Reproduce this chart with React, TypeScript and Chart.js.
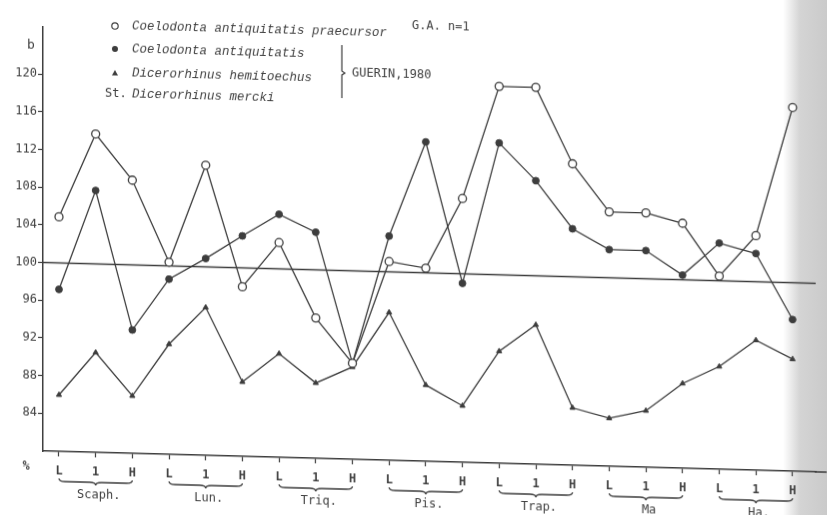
import React, { useEffect, useRef } from "react";
import { Chart, registerables } from "chart.js";

Chart.register(...registerables);

// ---- data ----
const groupNames = ["Scaph.", "Lun.", "Triq.", "Pis.", "Trap.", "Ma", "Ha."];
const tickLabels = [
  "L", "1", "H", "L", "1", "H", "L", "1", "H", "L", "1", "H",
  "L", "1", "H", "L", "1", "H", "L", "1", "H",
];
const praecursorValues = [
  104.9, 113.8, 109.0, 100.4, 110.8, 98.0, 102.8, 94.9, 90.2, 101.1, 100.5,
  108.0, 120.0, 120.0, 112.0, 107.0, 107.0, 106.0, 100.5, 104.9, 118.6,
];
const antiquitatisValues = [
  97.2, 107.8, 93.1, 98.6, 100.9, 103.4, 105.8, 104.0, 90.2, 103.8, 113.9,
  99.0, 114.0, 110.1, 105.1, 103.0, 103.0, 100.5, 104.0, 103.0, 96.1,
];
const hemitoechusValues = [
  86.0, 90.6, 86.1, 91.7, 95.7, 87.9, 91.0, 88.0, 89.8, 95.7, 88.1,
  86.0, 91.9, 94.8, 86.1, 85.1, 86.0, 89.0, 90.9, 93.8, 91.9,
];
const yTickValues = [84, 88, 92, 96, 100, 104, 108, 112, 116, 120];
const referenceValue = 100;
const yMin = 80;
const yMax = 125;

const legendNames = [
  "Coelodonta antiquitatis praecursor",
  "Coelodonta antiquitatis",
  "Dicerorhinus hemitoechus",
  "Dicerorhinus mercki",
];
const legendNote = "G.A. n=1";
const sourceNote = "GUERIN,1980";
const panelLetter = "b";
const unitLabel = "%";

// ---- styles ----
const INK = "#3d3d3d";
const TEXT = "#404040";
const MONO = "'DejaVu Sans Mono', monospace";
const SCRIPT = "italic 12.5px 'Liberation Mono', monospace";
const SKEW = 0.027; // scan shear of the original page
const ORIGIN_X = 43;

function App() {
  const canvasRef = useRef<HTMLCanvasElement | null>(null);

  useEffect(() => {
    const canvas = canvasRef.current;
    if (!canvas) return;

    const toPts = (arr: number[]) => arr.map((v, i) => ({ x: i, y: v }));
    // convert a page position to the canvas position before shear
    const uy = (x: number, y: number) => y - SKEW * (x - ORIGIN_X);

    const decor = {
      id: "decor",
      beforeDatasetsDraw(chart: any) {
        const { ctx, chartArea, scales } = chart;
        const y = scales.y.getPixelForValue(referenceValue);
        ctx.save();
        ctx.strokeStyle = INK;
        ctx.lineWidth = 1.4;
        ctx.beginPath();
        ctx.moveTo(chartArea.left, y);
        ctx.lineTo(chartArea.right, y);
        ctx.stroke();
        ctx.restore();
      },
      afterDraw(chart: any) {
        const { ctx, chartArea, scales, width } = chart;
        const xs = scales.x;
        const b = chartArea.bottom;
        ctx.save();
        ctx.strokeStyle = INK;
        ctx.fillStyle = TEXT;
        // x-axis runs on to the page edge
        ctx.lineWidth = 1.5;
        ctx.beginPath();
        ctx.moveTo(chartArea.right - 1, b);
        ctx.lineTo(width, b);
        ctx.stroke();

        // braces + group names
        ctx.lineWidth = 1.3;
        ctx.font = `12px ${MONO}`;
        ctx.textAlign = "center";
        ctx.textBaseline = "middle";
        groupNames.forEach((name, g) => {
          const xL = xs.getPixelForValue(g * 3);
          const xC = xs.getPixelForValue(g * 3 + 1);
          const xH = xs.getPixelForValue(g * 3 + 2);
          const y0 = b + 30;
          ctx.beginPath();
          ctx.moveTo(xL, y0 - 3);
          ctx.quadraticCurveTo(xL, y0, xL + 6, y0);
          ctx.lineTo(xC - 6, y0);
          ctx.quadraticCurveTo(xC, y0, xC, y0 + 3);
          ctx.quadraticCurveTo(xC, y0, xC + 6, y0);
          ctx.lineTo(xH - 6, y0);
          ctx.quadraticCurveTo(xH, y0, xH, y0 - 3);
          ctx.stroke();
          ctx.fillText(name, xC + 3, b + 43);
        });

        // panel letter and unit
        ctx.font = `13px ${MONO}`;
        ctx.fillText(panelLetter, 31, uy(31, 45));
        ctx.font = `bold 12px ${MONO}`;
        ctx.fillText(unitLabel, 26, uy(26, 466));

        // legend
        const rows = [26, 49, 73, 94];
        const mx = 115;
        const tx = 132;
        ctx.textAlign = "left";
        // open circle
        ctx.lineWidth = 1.2;
        ctx.beginPath();
        ctx.arc(mx, uy(mx, rows[0]), 3.2, 0, Math.PI * 2);
        ctx.fillStyle = "#fff";
        ctx.fill();
        ctx.stroke();
        ctx.fillStyle = INK;
        // filled circle
        ctx.beginPath();
        ctx.arc(mx, uy(mx, rows[1]), 3, 0, Math.PI * 2);
        ctx.fill();
        // triangle
        const ty = uy(mx, rows[2]);
        ctx.beginPath();
        ctx.moveTo(mx, ty - 3);
        ctx.lineTo(mx + 3, ty + 2.5);
        ctx.lineTo(mx - 3, ty + 2.5);
        ctx.closePath();
        ctx.fill();

        ctx.fillStyle = TEXT;
        ctx.font = SCRIPT;
        for (let i = 0; i < 3; i++) {
          ctx.fillText(legendNames[i], tx, uy(tx, rows[i]));
        }
        ctx.font = `12px ${MONO}`;
        ctx.fillText("St.", 105, uy(105, rows[3]));
        ctx.font = SCRIPT;
        ctx.fillText(legendNames[3], tx, uy(tx, rows[3]));
        ctx.font = `12px ${MONO}`;
        ctx.fillText(legendNote, 412, uy(412, rows[0]));
        ctx.fillText(sourceNote, 352, uy(352, rows[2]));

        // bracket
        const bx = 342;
        ctx.lineWidth = 1.2;
        ctx.strokeStyle = INK;
        ctx.beginPath();
        ctx.moveTo(bx, uy(bx, 45));
        ctx.lineTo(bx, uy(bx, rows[2] - 2));
        ctx.lineTo(bx + 3, uy(bx, rows[2]));
        ctx.lineTo(bx, uy(bx, rows[2] + 2));
        ctx.lineTo(bx, uy(bx, 98));
        ctx.stroke();
        ctx.restore();
      },
    };

    const chart = new Chart(canvas, {
      type: "line",
      data: {
        datasets: [
          {
            label: legendNames[0],
            data: toPts(praecursorValues),
            borderColor: INK,
            borderWidth: 1.3,
            pointStyle: "circle",
            pointRadius: 4,
            pointBackgroundColor: "#ffffff",
            pointBorderColor: INK,
            pointBorderWidth: 1.3,
            tension: 0,
          },
          {
            label: legendNames[1],
            data: toPts(antiquitatisValues),
            borderColor: INK,
            borderWidth: 1.3,
            pointStyle: "circle",
            pointRadius: 3.4,
            pointBackgroundColor: INK,
            pointBorderColor: INK,
            pointBorderWidth: 1,
            tension: 0,
          },
          {
            label: legendNames[2],
            data: toPts(hemitoechusValues),
            borderColor: INK,
            borderWidth: 1.3,
            pointStyle: "triangle",
            pointRadius: 3,
            pointBackgroundColor: INK,
            pointBorderColor: INK,
            pointBorderWidth: 1,
            tension: 0,
          },
        ],
      },
      options: {
        animation: false,
        responsive: false,
        devicePixelRatio: 1,
        layout: { padding: { top: 27, right: 11, left: 0, bottom: 0 } },
        plugins: {
          legend: { display: false },
          tooltip: { enabled: false },
          title: { display: false },
        },
        scales: {
          x: {
            type: "linear",
            min: -0.436,
            max: 20.63,
            afterBuildTicks: (s: any) => {
              s.ticks = tickLabels.map((_, i) => ({ value: i }));
            },
            afterFit: (s: any) => {
              s.height = 64;
            },
            ticks: {
              autoSkip: false,
              maxRotation: 0,
              padding: 8,
              color: TEXT,
              font: { family: MONO, size: 12, weight: "bold" },
              callback: (v: any) => tickLabels[v] ?? "",
            },
            grid: {
              drawOnChartArea: false,
              drawTicks: true,
              tickLength: 5,
              color: INK,
              tickWidth: 1.2,
            },
            border: { display: true, color: INK, width: 1.5 },
          },
          y: {
            type: "linear",
            min: yMin,
            max: yMax,
            afterBuildTicks: (s: any) => {
              s.ticks = yTickValues.map((v) => ({ value: v }));
            },
            afterFit: (s: any) => {
              s.width = 43;
            },
            ticks: {
              padding: 1,
              color: TEXT,
              font: { family: MONO, size: 12 },
              callback: (v: any) => String(v),
            },
            grid: {
              drawOnChartArea: false,
              drawTicks: true,
              tickLength: 5,
              color: INK,
              tickWidth: 1.2,
            },
            border: { display: true, color: INK, width: 1.5 },
          },
        },
      },
      plugins: [decor],
    } as any);

    return () => chart.destroy();
  }, []);

  return (
    <div
      style={{
        position: "fixed",
        left: 0,
        top: 0,
        width: 827,
        height: 515,
        overflow: "hidden",
        background:
          "linear-gradient(to right, #ffffff 0px, #ffffff 783px, #d4d4d4 800px, #cacaca 827px)",
      }}
    >
      <canvas
        ref={canvasRef}
        width={827}
        height={515}
        style={{
          display: "block",
          transform: `skewY(${(Math.atan(SKEW) * 180) / Math.PI}deg)`,
          transformOrigin: `${ORIGIN_X}px 0px`,
        }}
      />
    </div>
  );
}

export default App;
